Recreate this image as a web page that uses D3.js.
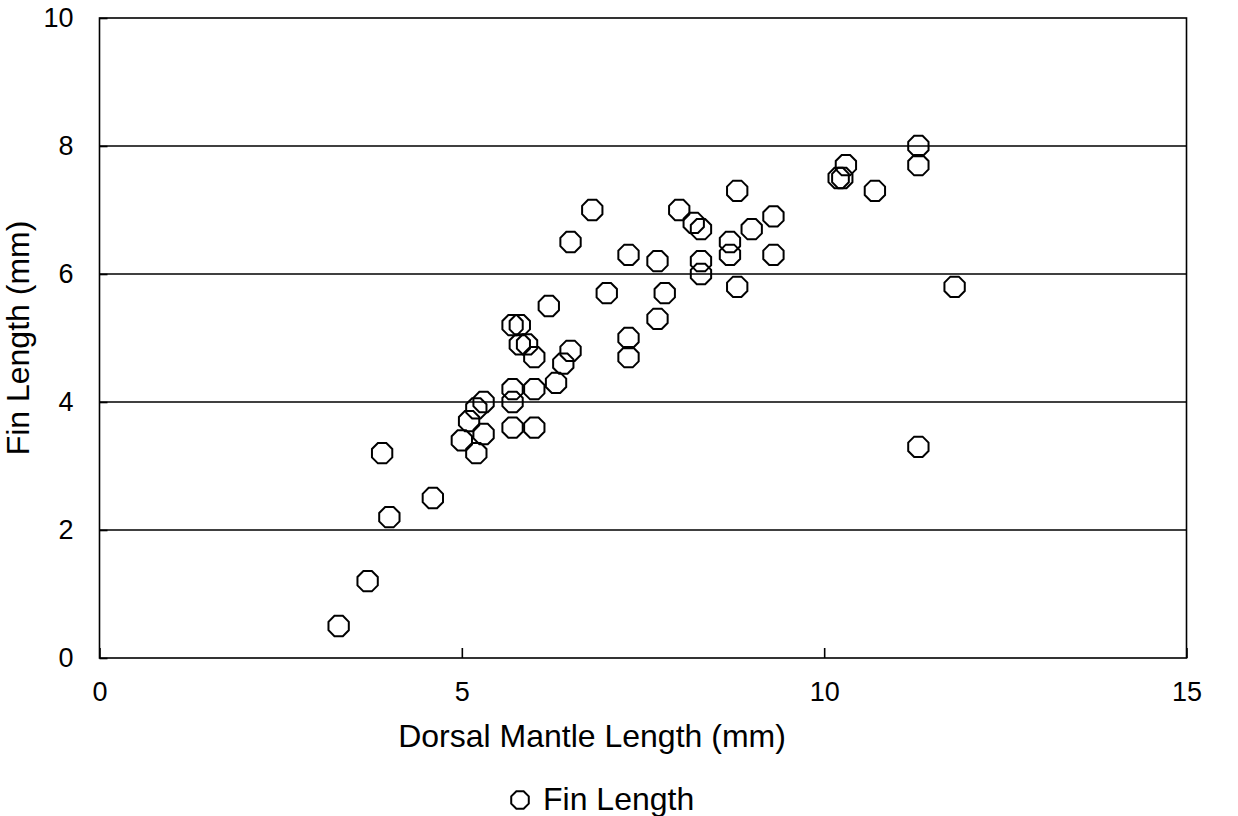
<!DOCTYPE html>
<html>
<head>
<meta charset="utf-8">
<script src="https://cdn.jsdelivr.net/npm/d3@7"></script>
<style>
  html, body { margin: 0; padding: 0; background: #fff; }
  svg text { font-family: "Liberation Sans", Arial, sans-serif; fill: #000; }
</style>
</head>
<body>
<svg id="chart" width="1238" height="816"></svg>
<script>
// Dorsal mantle length (mm) vs fin length (mm)
const dorsalMantle = [3.3, 3.7, 3.9, 4.0, 4.6, 5.0, 5.1, 5.2, 5.2, 5.3, 5.3, 5.7, 5.7, 5.7, 5.7, 5.8,
  5.8, 5.9, 6.0, 6.0, 6.0, 6.2, 6.3, 6.4, 6.5, 6.5, 6.8, 7.0, 7.3, 7.3, 7.3, 7.7, 7.7, 7.8, 8.0,
  8.2, 8.3, 8.3, 8.3, 8.7, 8.7, 8.8, 8.8, 9.0, 9.3, 9.3, 10.2, 10.25, 10.3, 10.7, 11.3, 11.3, 11.3, 11.8];
const finLength = [0.5, 1.2, 3.2, 2.2, 2.5, 3.4, 3.7, 3.2, 3.9, 4.0, 3.5, 3.6, 4.0, 4.2, 5.2, 5.2,
  4.9, 4.9, 4.7, 4.2, 3.6, 5.5, 4.3, 4.6, 4.8, 6.5, 7.0, 5.7, 6.3, 5.0, 4.7, 6.2, 5.3, 5.7, 7.0,
  6.8, 6.7, 6.2, 6.0, 6.5, 6.3, 7.3, 5.8, 6.7, 6.9, 6.3, 7.5, 7.5, 7.7, 7.3, 8.0, 7.7, 3.3, 5.8];
const xTicks = [0, 5, 10, 15];
const yTicks = [0, 2, 4, 6, 8, 10];
const seriesName = "Fin Length";

const svg = d3.select("#chart");
const plotLeft = 99.5, plotRight = 1186.5, plotTop = 18, plotBottom = 658;

const x = d3.scaleLinear().domain([0, 15]).range([plotLeft, plotRight]);
const y = d3.scaleLinear().domain([0, 10]).range([plotBottom, plotTop]);

// octagon marker, flat on top and bottom
function octagon(r) {
  const pts = d3.range(8).map(i => {
    const a = Math.PI / 8 + i * Math.PI / 4;
    return [r * Math.cos(a), r * Math.sin(a)];
  });
  return "M" + pts.map(p => p.join(",")).join("L") + "Z";
}

// horizontal gridlines
svg.append("g")
  .selectAll("line")
  .data(yTicks.filter(v => v > 0 && v < 10))
  .join("line")
  .attr("x1", plotLeft).attr("x2", plotRight)
  .attr("y1", d => y(d)).attr("y2", d => y(d))
  .attr("stroke", "#000").attr("stroke-width", 1.6);

// plot frame
svg.append("rect")
  .attr("x", plotLeft).attr("y", plotTop)
  .attr("width", plotRight - plotLeft).attr("height", plotBottom - plotTop)
  .attr("fill", "none").attr("stroke", "#000").attr("stroke-width", 1.6);

// x axis (ticks point into the plot)
const xAxis = svg.append("g")
  .attr("transform", `translate(0,${plotBottom})`)
  .call(d3.axisBottom(x).tickValues(xTicks).tickSizeInner(-10).tickSizeOuter(0).tickPadding(24));
xAxis.select(".domain").remove();
xAxis.selectAll("line").attr("stroke", "#000").attr("stroke-width", 1.6);
xAxis.selectAll("text").attr("font-size", 27).attr("font-family", "Liberation Sans, Arial, sans-serif");

// y axis
const yAxis = svg.append("g")
  .attr("transform", `translate(${plotLeft},0)`)
  .call(d3.axisLeft(y).tickValues(yTicks).tickSizeInner(-8).tickSizeOuter(0).tickPadding(26));
yAxis.select(".domain").remove();
yAxis.selectAll("line").attr("stroke", "#000").attr("stroke-width", 1.6);
yAxis.selectAll("text").attr("font-size", 27).attr("font-family", "Liberation Sans, Arial, sans-serif");

// points
const pts = dorsalMantle.map((d, i) => ({ x: d, y: finLength[i] }));
svg.append("g")
  .selectAll("path")
  .data(pts)
  .join("path")
  .attr("d", octagon(11))
  .attr("transform", d => `translate(${x(d.x)},${y(d.y)})`)
  .attr("fill", "none")
  .attr("stroke", "#000")
  .attr("stroke-width", 2);

// axis titles
svg.append("text")
  .attr("x", 592).attr("y", 747)
  .attr("text-anchor", "middle").attr("font-size", 32)
  .text("Dorsal Mantle Length (mm)");

svg.append("text")
  .attr("transform", `translate(29,${(plotTop + plotBottom) / 2}) rotate(-90)`)
  .attr("text-anchor", "middle").attr("font-size", 32)
  .text("Fin Length (mm)");

// legend
const legend = svg.append("g").attr("transform", "translate(520,800)");
legend.append("path")
  .attr("d", octagon(9.5))
  .attr("fill", "none").attr("stroke", "#000").attr("stroke-width", 2);
legend.append("text")
  .attr("x", 23).attr("y", 10)
  .attr("font-size", 32)
  .text(seriesName);
</script>
</body>
</html>
